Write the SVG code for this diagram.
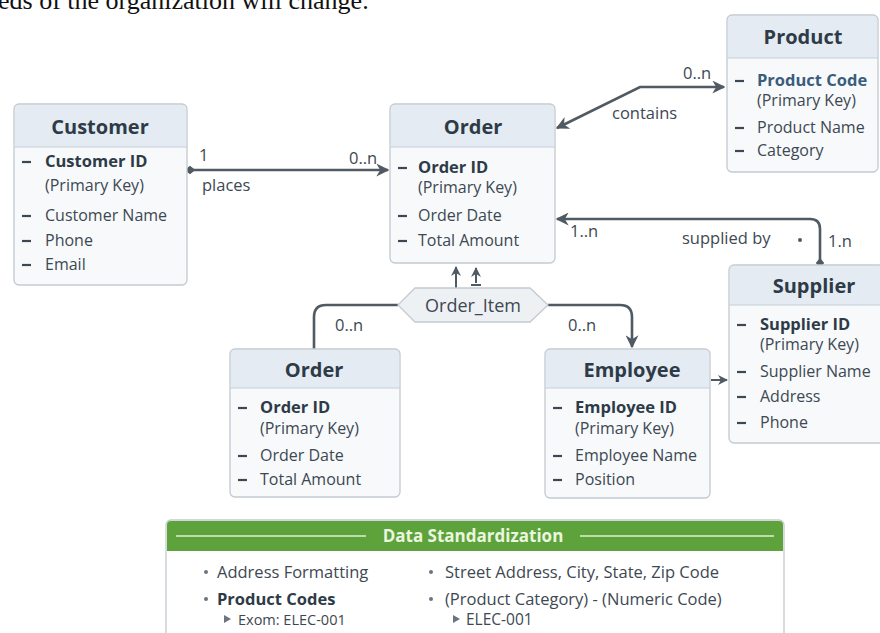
<svg xmlns="http://www.w3.org/2000/svg" width="880" height="633" viewBox="0 0 880 633">
<defs>
<style>
.box{fill:#f7f9fb;stroke:#c3cad1;stroke-width:1.3}
.hdr{fill:#e4ebf2}
.sep{stroke:#c8d0d8;stroke-width:1}
.title{font-family:"Open Sans",sans-serif;font-weight:bold;font-size:20px;fill:#2e3b47;text-anchor:middle}
.it{font-family:"Open Sans",sans-serif;font-size:16px;fill:#3d4852}
.b{font-weight:bold;fill:#2e3b47;font-size:16.5px}
.pk{font-family:"Open Sans",sans-serif;font-size:16px;fill:#3d4852}
.lbl{font-family:"Open Sans",sans-serif;font-size:16.5px;fill:#3d4852}
.dash{stroke:#3d4852;stroke-width:2.2}
.ln{fill:none;stroke:#505a63;stroke-width:2.6}
.ln2{fill:none;stroke:#505a63;stroke-width:2}
.ds{font-family:"Open Sans",sans-serif;font-size:16.5px;fill:#3d4852}
</style>
<marker id="ah" viewBox="0 0 10 10" refX="9" refY="5" markerWidth="5" markerHeight="5" orient="auto-start-reverse" markerUnits="strokeWidth">
<path d="M0,0 L10,5 L0,10 L3,5 z" fill="#505a63"/>
</marker>
<marker id="dm" viewBox="0 0 10 10" refX="5" refY="5" markerWidth="4" markerHeight="4" orient="auto" markerUnits="strokeWidth">
<path d="M0,5 L5,1 L10,5 L5,9 z" fill="#505a63"/>
</marker>
</defs>
<rect width="880" height="633" fill="#ffffff"/>
<text x="-2" y="9" font-family="Liberation Serif, serif" font-size="26" fill="#111">eds of the organization will change.</text>

<g id="connectors">
<!-- places -->
<line class="ln" x1="190" y1="170" x2="388" y2="170" marker-start="url(#dm)" marker-end="url(#ah)"/>
<text class="lbl" x="199" y="161">1</text>
<text class="lbl" x="349" y="164">0..n</text>
<text class="lbl" x="202" y="191">places</text>
<!-- contains -->
<polyline class="ln" points="557,128 640,87 724,87" marker-start="url(#ah)" marker-end="url(#ah)"/>
<text class="lbl" x="683" y="79">0..n</text>
<text class="lbl" x="612" y="119">contains</text>
<!-- supplied by -->
<path class="ln" d="M557,219 L810,219 Q820,219 820,229 L820,263" marker-start="url(#ah)" marker-end="url(#dm)"/>
<text class="lbl" x="570" y="237">1..n</text>
<text class="lbl" x="682" y="244">supplied by</text>
<circle cx="800" cy="240" r="2" fill="#505a63"/>
<text class="lbl" x="828" y="247">1.n</text>
<!-- Order_Item arrows -->
<line class="ln2" x1="456" y1="288" x2="456" y2="267" marker-end="url(#ah)"/>
<line class="ln2" x1="476" y1="283" x2="476" y2="268" marker-end="url(#ah)"/>
<line class="ln2" x1="471" y1="285" x2="481" y2="285"/>
<!-- Order_Item to Order bottom -->
<path class="ln" d="M398,305 L326,305 Q314,305 314,317 L314,349"/>
<text class="lbl" x="335" y="331">0..n</text>
<!-- Order_Item to Employee -->
<path class="ln" d="M548,305 L620,305 Q632,305 632,317 L632,347" marker-end="url(#ah)"/>
<text class="lbl" x="568" y="331">0..n</text>
<!-- Employee to Supplier -->
<line class="ln2" x1="711" y1="380" x2="727" y2="380" marker-end="url(#ah)"/>
</g>

<g id="order-item">
<polygon points="398,305 415,288 530,288 548,305 530,322 415,322" fill="#eef1f4" stroke="#c3cad1" stroke-width="1.3"/>
<text class="lbl" x="473" y="312" text-anchor="middle" font-size="18" style="font-size:18px">Order_Item</text>
</g>

<g id="customer">
<rect class="box" x="14" y="104" width="173" height="181" rx="5"/>
<path class="hdr" d="M15,147 L15,109 Q15,105 19,105 L182,105 Q186,105 186,109 L186,147 z"/>
<line class="sep" x1="14" y1="147" x2="187" y2="147"/>
<text class="title" x="100" y="134">Customer</text>
<line class="dash" x1="22" y1="162" x2="31" y2="162"/>
<text class="it b" x="45" y="167">Customer ID</text>
<text class="pk" x="45" y="191">(Primary Key)</text>
<line class="dash" x1="22" y1="216" x2="31" y2="216"/>
<text class="it" x="45" y="221">Customer Name</text>
<line class="dash" x1="22" y1="241" x2="31" y2="241"/>
<text class="it" x="45" y="246">Phone</text>
<line class="dash" x1="22" y1="265" x2="31" y2="265"/>
<text class="it" x="45" y="270">Email</text>
</g>

<g id="order">
<rect class="box" x="390" y="104" width="165" height="159" rx="5"/>
<path class="hdr" d="M391,147 L391,109 Q391,105 395,105 L550,105 Q554,105 554,109 L554,147 z"/>
<line class="sep" x1="390" y1="147" x2="555" y2="147"/>
<text class="title" x="473" y="134">Order</text>
<line class="dash" x1="398" y1="168" x2="407" y2="168"/>
<text class="it b" x="418" y="173">Order ID</text>
<text class="pk" x="418" y="193">(Primary Key)</text>
<line class="dash" x1="398" y1="216" x2="407" y2="216"/>
<text class="it" x="418" y="221">Order Date</text>
<line class="dash" x1="398" y1="241" x2="407" y2="241"/>
<text class="it" x="418" y="246">Total Amount</text>
</g>

<g id="product">
<rect class="box" x="727" y="15" width="151" height="157" rx="5"/>
<path class="hdr" d="M728,58 L728,20 Q728,16 732,16 L873,16 Q877,16 877,20 L877,58 z"/>
<line class="sep" x1="727" y1="58" x2="878" y2="58"/>
<text class="title" x="803" y="44">Product</text>
<line class="dash" x1="735" y1="81" x2="744" y2="81"/>
<text class="it b" x="757" y="86" style="fill:#3a5d7c">Product Code</text>
<text class="pk" x="757" y="106">(Primary Key)</text>
<line class="dash" x1="735" y1="128" x2="744" y2="128"/>
<text class="it" x="757" y="133">Product Name</text>
<line class="dash" x1="735" y1="151" x2="744" y2="151"/>
<text class="it" x="757" y="156">Category</text>
</g>

<g id="supplier">
<rect class="box" x="729" y="265" width="155" height="178" rx="5"/>
<path class="hdr" d="M730,305 L730,270 Q730,266 734,266 L883,266 L883,305 z"/>
<line class="sep" x1="729" y1="305" x2="884" y2="305"/>
<text class="title" x="814" y="293">Supplier</text>
<line class="dash" x1="737" y1="325" x2="746" y2="325"/>
<text class="it b" x="760" y="330">Supplier ID</text>
<text class="pk" x="760" y="350">(Primary Key)</text>
<line class="dash" x1="737" y1="372" x2="746" y2="372"/>
<text class="it" x="760" y="377">Supplier Name</text>
<line class="dash" x1="737" y1="397" x2="746" y2="397"/>
<text class="it" x="760" y="402">Address</text>
<line class="dash" x1="737" y1="423" x2="746" y2="423"/>
<text class="it" x="760" y="428">Phone</text>
</g>

<g id="order2">
<rect class="box" x="230" y="349" width="170" height="148" rx="5"/>
<path class="hdr" d="M231,388 L231,354 Q231,350 235,350 L395,350 Q399,350 399,354 L399,388 z"/>
<line class="sep" x1="230" y1="388" x2="400" y2="388"/>
<text class="title" x="314" y="377">Order</text>
<line class="dash" x1="238" y1="408" x2="247" y2="408"/>
<text class="it b" x="260" y="413">Order ID</text>
<text class="pk" x="260" y="434">(Primary Key)</text>
<line class="dash" x1="238" y1="456" x2="247" y2="456"/>
<text class="it" x="260" y="461">Order Date</text>
<line class="dash" x1="238" y1="480" x2="247" y2="480"/>
<text class="it" x="260" y="485">Total Amount</text>
</g>

<g id="employee">
<rect class="box" x="545" y="349" width="165" height="149" rx="5"/>
<path class="hdr" d="M546,388 L546,354 Q546,350 550,350 L705,350 Q709,350 709,354 L709,388 z"/>
<line class="sep" x1="545" y1="388" x2="710" y2="388"/>
<text class="title" x="632" y="377">Employee</text>
<line class="dash" x1="553" y1="408" x2="562" y2="408"/>
<text class="it b" x="575" y="413">Employee ID</text>
<text class="pk" x="575" y="434">(Primary Key)</text>
<line class="dash" x1="553" y1="456" x2="562" y2="456"/>
<text class="it" x="575" y="461">Employee Name</text>
<line class="dash" x1="553" y1="480" x2="562" y2="480"/>
<text class="it" x="575" y="485">Position</text>
</g>

<g id="data-standardization">
<rect x="166" y="520" width="618" height="130" rx="5" fill="#ffffff" stroke="#c3cad1" stroke-width="1.3"/>
<path d="M167,551 L167,525 Q167,521 171,521 L779,521 Q783,521 783,525 L783,551 z" fill="#5da23b"/>
<line x1="176" y1="536" x2="366" y2="536" stroke="#dcefd0" stroke-width="1.5"/>
<line x1="580" y1="536" x2="774" y2="536" stroke="#dcefd0" stroke-width="1.5"/>
<text x="473" y="542" text-anchor="middle" font-family="Open Sans, sans-serif" font-weight="bold" font-size="17" fill="#eaf6df">Data Standardization</text>
<circle cx="206" cy="572" r="2" fill="#6a7580"/>
<text class="ds" x="217" y="578">Address Formatting</text>
<circle cx="206" cy="599" r="2" fill="#6a7580"/>
<text class="ds" x="217" y="605" font-weight="bold" style="fill:#2e3b47">Product Codes</text>
<path d="M224,615 L231,619 L224,623 z" fill="#6a7580"/>
<text class="ds" x="238" y="625" style="font-size:14.5px">Exom: ELEC-001</text>
<circle cx="431" cy="572" r="2" fill="#6a7580"/>
<text class="ds" x="445" y="578">Street Address, City, State, Zip Code</text>
<circle cx="431" cy="599" r="2" fill="#6a7580"/>
<text class="ds" x="445" y="605">(Product Category) - (Numeric Code)</text>
<path d="M453,615 L460,619 L453,623 z" fill="#6a7580"/>
<text class="ds" x="466" y="625" style="font-size:15.5px">ELEC-001</text>
</g>
</svg>
